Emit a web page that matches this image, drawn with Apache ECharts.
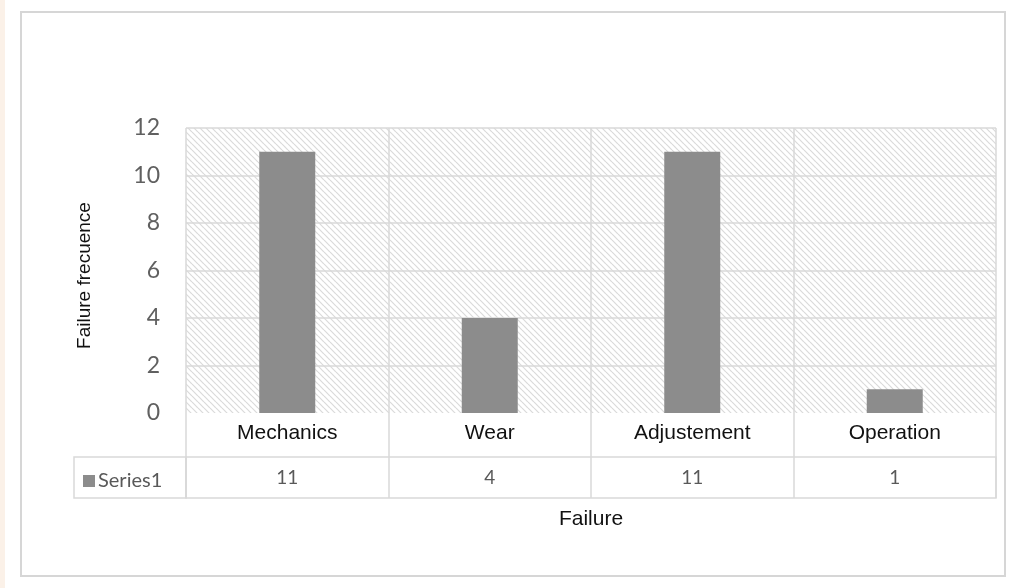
<!DOCTYPE html>
<html>
<head>
<meta charset="utf-8">
<script src="https://cdn.jsdelivr.net/npm/echarts@6/dist/echarts.min.js"></script>
<style>
html,body{margin:0;padding:0;background:#fff;}
#main{width:1026px;height:588px;}
</style>
</head>
<body>
<div id="main"></div>
<script>
var categories = ['Mechanics', 'Wear', 'Adjustement', 'Operation'];
var values = [11, 4, 11, 1];
var seriesName = 'Series1';
var yTicks = {min: 0, max: 12, interval: 2};

// diagonal hatch for the plot background
var pc = document.createElement('canvas');
pc.width = 6; pc.height = 6;
var ctx = pc.getContext('2d');
ctx.strokeStyle = '#dadada';
ctx.lineWidth = 1.2;
for (var k = -1; k <= 1; k++) {
	ctx.beginPath();
	ctx.moveTo(0, k * 6);
	ctx.lineTo(6, 6 + k * 6);
	ctx.stroke();
}

var lineCol = '#d9d9d9';
var chart = echarts.init(document.getElementById('main'));
var option = {
	animation: false,
	backgroundColor: '#fff',
	graphic: [
		{type: 'rect', shape: {x: 0, y: 0, width: 5, height: 588}, style: {fill: '#fbf1e8'}, silent: true},
		{type: 'rect', shape: {x: 21, y: 12, width: 984, height: 564}, style: {fill: 'none', stroke: '#d6d6d6', lineWidth: 2}, silent: true}
	],
	legend: {
		left: 78,
		top: 466,
		icon: 'rect',
		itemWidth: 12,
		itemHeight: 12,
		itemGap: 4,
		textStyle: {fontFamily: 'Lato', fontSize: 20, color: '#595959', padding: [0, 0, 0, -2]},
		data: [seriesName]
	},
	grid: [
		{left: 186, right: 30, top: 128, height: 285, show: true, borderWidth: 0, backgroundColor: {image: pc, repeat: 'repeat'}},
		{left: 186, right: 30, top: 413, height: 44},
		{left: 186, right: 30, top: 457, height: 41, show: true, borderWidth: 1.5, borderColor: lineCol},
		{left: 74, width: 112, top: 457, height: 41, show: true, borderWidth: 1.5, borderColor: lineCol}
	],
	xAxis: [
		{
			type: 'category', gridIndex: 0, data: categories,
			axisLine: {show: false}, axisTick: {show: false},
			axisLabel: {margin: 10, fontFamily: 'Liberation Sans', fontSize: 21, color: '#111'},
			splitLine: {show: true, interval: 0, lineStyle: {color: lineCol, width: 1.5}}
		},
		{
			type: 'category', gridIndex: 1, data: categories,
			axisLine: {show: false}, axisTick: {show: false}, axisLabel: {show: false},
			splitLine: {show: true, interval: 0, lineStyle: {color: lineCol, width: 1.5}}
		},
		{
			type: 'category', gridIndex: 2, data: categories,
			axisLine: {show: false}, axisTick: {show: false},
			axisLabel: {
				inside: true, margin: 11, fontFamily: 'Lato', fontSize: 19, color: '#595959',
				formatter: function (v, i) { return String(values[i]); }
			},
			splitLine: {show: true, interval: 0, lineStyle: {color: lineCol, width: 1.5}},
			name: 'Failure', nameLocation: 'middle', nameGap: 11,
			nameTextStyle: {fontFamily: 'Liberation Sans', fontSize: 21, color: '#111'}
		},
		{type: 'value', gridIndex: 3, show: false}
	],
	yAxis: [
		{
			type: 'value', gridIndex: 0, min: yTicks.min, max: yTicks.max, interval: yTicks.interval,
			axisLine: {show: false}, axisTick: {show: false},
			axisLabel: {margin: 26, fontFamily: 'Lato', fontSize: 23, color: '#606060', padding: [6, 0, 0, 0]},
			splitLine: {show: true, showMinLine: false, lineStyle: {color: lineCol, width: 1.5}},
			name: 'Failure frecuence', nameLocation: 'middle', nameGap: 92,
			nameTextStyle: {fontFamily: 'Liberation Sans', fontSize: 19, color: '#111', padding: [0, 0, 0, -10]}
		},
		{type: 'value', gridIndex: 1, show: false},
		{type: 'value', gridIndex: 2, show: false},
		{type: 'value', gridIndex: 3, show: false}
	],
	series: [
		{
			name: seriesName,
			type: 'bar',
			xAxisIndex: 0,
			yAxisIndex: 0,
			barWidth: 56,
			itemStyle: {color: '#8c8c8c'},
			data: values
		}
	]
};
chart.setOption(option);
</script>
</body>
</html>
